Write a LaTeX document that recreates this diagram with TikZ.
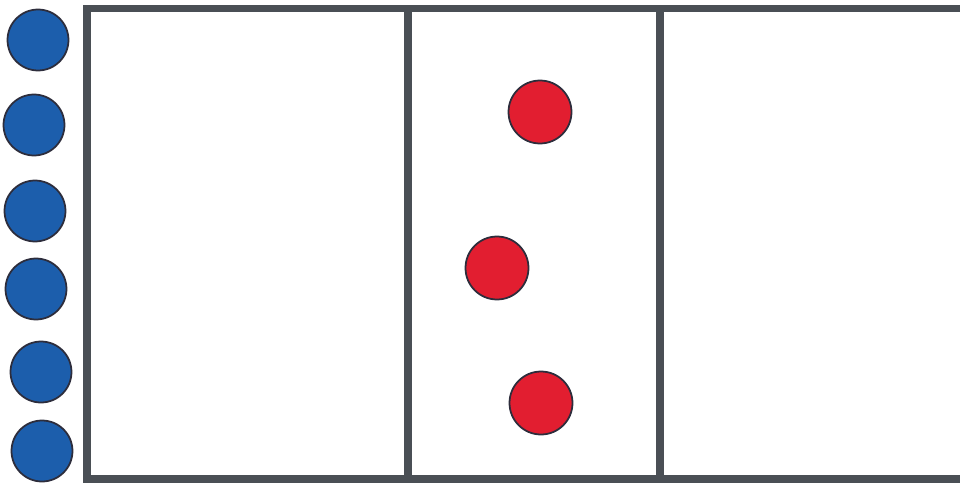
\documentclass[tikz,border=0pt]{standalone}
\usepackage{tikz}
\usetikzlibrary{positioning}
\definecolor{dotblue}{RGB}{28, 94, 172}
\definecolor{dotred}{RGB}{226, 30, 48}
\definecolor{dotrim}{RGB}{45, 45, 60}
\definecolor{framegray}{RGB}{74, 79, 85}

\begin{document}
\begin{tikzpicture}[
    x=0.02cm, y=-0.02cm,
    bluedot/.style={circle, draw=dotrim, line width=1pt, fill=dotblue, minimum size=1.22cm, inner sep=0pt},
    reddot/.style={circle, draw=dotrim, line width=1pt, fill=dotred, minimum size=1.26cm, inner sep=0pt},
    wall/.style={framegray, line width=4pt}
]
    \useasboundingbox (0, 0) rectangle (960, 483);
    \clip (0, 0) rectangle (960, 483);

    % --- FRAME ---
    \coordinate (tl) at (87, 8.5);
    \coordinate (br) at (975, 479);
    \draw[wall] (tl) rectangle (br);
    \draw[wall] (408, 8.5) coordinate (a1) -- (408, 479) coordinate (a2);
    \draw[wall] (660, 8.5) coordinate (b1) -- (660, 479) coordinate (b2);

    % --- BLUE DOTS ---
    \foreach \n/\px/\py in {1/38/40, 2/34/125, 3/35/211, 4/36/289, 5/41/372, 6/42/451} {
        \node[bluedot] (blue\n) at (\px, \py) {};
    }

    % --- RED DOTS ---
    \node[reddot] (red1) at (540, 112) {};
    \node[reddot] (red2) at (497, 268) {};
    \node[reddot] (red3) at (541, 403) {};

\end{tikzpicture}
\end{document}
